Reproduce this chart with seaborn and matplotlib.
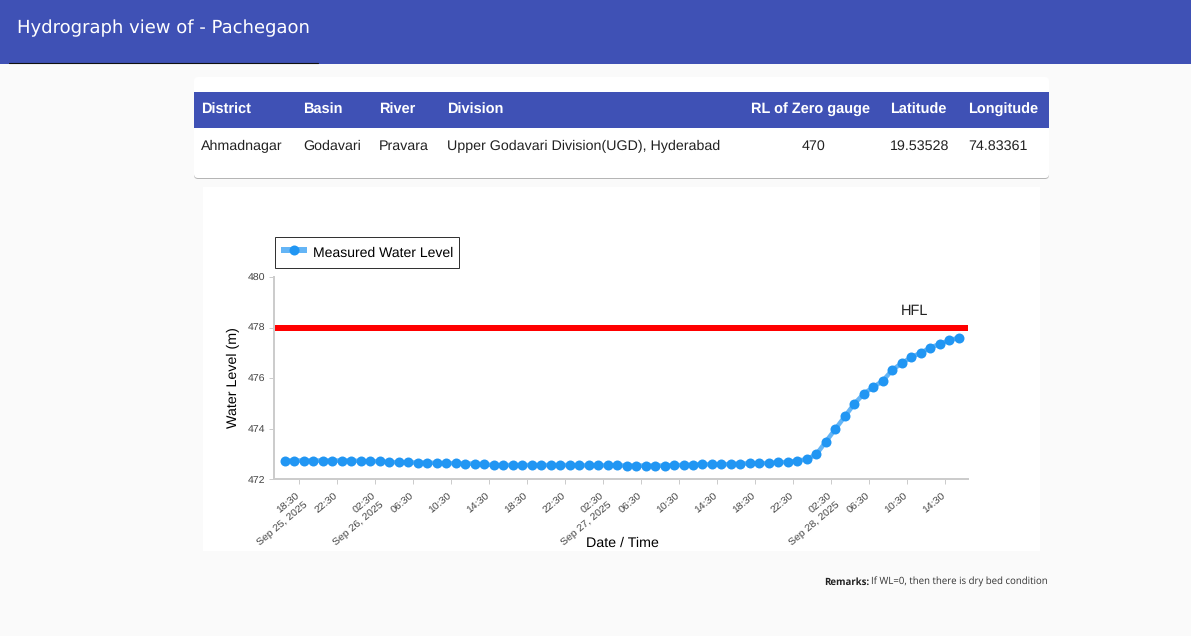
import matplotlib
matplotlib.use('Agg')
import matplotlib.pyplot as plt
import matplotlib.dates as mdates
from matplotlib.patches import Rectangle, FancyBboxPatch
from matplotlib.transforms import ScaledTranslation
import pandas as pd
import seaborn as sns

# Data
start_time = '2025-09-25 17:00'
water_level = [
    472.73, 472.73, 472.73, 472.73, 472.73, 472.73, 472.73, 472.73, 472.71, 472.70,
    472.70, 472.67, 472.66, 472.66, 472.65, 472.65, 472.63, 472.63, 472.62, 472.61,
    472.61, 472.58, 472.55, 472.55, 472.55, 472.55, 472.55, 472.55, 472.55, 472.55,
    472.55, 472.54, 472.54, 472.54, 472.54, 472.54, 472.53, 472.53, 472.53, 472.53,
    472.53, 472.55, 472.55, 472.57, 472.58, 472.58, 472.58, 472.59, 472.61, 472.62,
    472.62, 472.63, 472.66, 472.67, 472.73, 472.78, 472.98, 473.48, 473.98, 474.48,
    474.98, 475.38, 475.64, 475.89, 476.32, 476.59, 476.82, 477.00, 477.20, 477.35,
    477.49, 477.60,
]
hfl_level = 478
y_ticks = [472, 474, 476, 478, 480]
x_tick_times = ['2025-09-25 18:30', '2025-09-25 22:30', '2025-09-26 02:30', '2025-09-26 06:30',
                '2025-09-26 10:30', '2025-09-26 14:30', '2025-09-26 18:30', '2025-09-26 22:30',
                '2025-09-27 02:30', '2025-09-27 06:30', '2025-09-27 10:30', '2025-09-27 14:30',
                '2025-09-27 18:30', '2025-09-27 22:30', '2025-09-28 02:30', '2025-09-28 06:30',
                '2025-09-28 10:30', '2025-09-28 14:30']
x_tick_labels = ['18:30\nSep 25, 2025', '22:30', '02:30\nSep 26, 2025', '06:30', '10:30', '14:30',
                 '18:30', '22:30', '02:30\nSep 27, 2025', '06:30', '10:30', '14:30',
                 '18:30', '22:30', '02:30\nSep 28, 2025', '06:30', '10:30', '14:30']
table_headers = ['District', 'Basin', 'River', 'Division']
table_values = ['Ahmadnagar', 'Godavari', 'Pravara', 'Upper Godavari Division(UGD), Hyderabad']
table_lefts = [201, 303, 379, 447]

W, H = 1191, 636
PT = 0.72  # one pixel in points at dpi 100
INDIGO = '#3f51b5'
BLUE = '#2196f3'
HEAD_SIZE = 14.5 * PT
CELL_SIZE = 14.3 * PT
HEAD_Y = 114
CELL_Y = 150

sns.set_theme(style='white')
plt.rcParams['font.family'] = ['Liberation Sans', 'DejaVu Sans']
plt.rcParams['text.hinting'] = 'none'

df = pd.DataFrame({'time': pd.date_range(start_time, periods=len(water_level), freq='h'),
                   'level': water_level})

fig = plt.figure(figsize=(W / 100, H / 100), dpi=100, facecolor='#fafafa')

# Page furniture drawn in pixel coordinates
page = fig.add_axes([0, 0, 1, 1])
page.set_xlim(0, W)
page.set_ylim(H, 0)
page.axis('off')
page.add_patch(Rectangle((0, 0), W, 64, color=INDIGO, lw=0))
page.plot([9, 318], [63, 63], color='#101010', lw=0.8)
page.text(17, 28, 'Hydrograph view of - Pachegaon', color='white', fontsize=18 * PT,
          family='DejaVu Sans', va='center')

# Card with the station table
page.add_patch(FancyBboxPatch((194, 79), 855, 100, boxstyle='round,pad=0,rounding_size=4',
                              fc='#b5b5b5', ec='none'))
page.add_patch(FancyBboxPatch((194, 77), 855, 101, boxstyle='round,pad=0,rounding_size=4',
                              fc='white', ec='none'))
page.add_patch(Rectangle((194, 92), 855, 36, color=INDIGO, lw=0))
for left, header, value in zip(table_lefts, table_headers, table_values):
    page.text(left, HEAD_Y, header, color='white', weight='bold', fontsize=HEAD_SIZE, va='baseline')
    page.text(left, CELL_Y, value, color='#222222', fontsize=CELL_SIZE, va='baseline')
page.text(810, HEAD_Y, 'RL of Zero gauge', color='white', weight='bold', fontsize=HEAD_SIZE,
          va='baseline', ha='center')
page.text(814, CELL_Y, '470', color='#222222', fontsize=CELL_SIZE, va='baseline', ha='center')
page.text(890, HEAD_Y, 'Latitude', color='white', weight='bold', fontsize=HEAD_SIZE, va='baseline')
page.text(890, CELL_Y, '19.53528', color='#222222', fontsize=CELL_SIZE, va='baseline')
page.text(968, HEAD_Y, 'Longitude', color='white', weight='bold', fontsize=HEAD_SIZE, va='baseline')
page.text(968, CELL_Y, '74.83361', color='#222222', fontsize=CELL_SIZE, va='baseline')

# White panel behind the chart
page.add_patch(Rectangle((203, 187), 837, 364, color='white', lw=0))

# Remarks
page.text(869, 584.5, 'Remarks:', color='#222222', weight='bold', fontsize=9.7 * PT,
          family='Open Sans', ha='right', va='baseline')
page.text(871, 584.5, 'If WL=0, then there is dry bed condition', color='#333333', fontsize=9.7 * PT,
          family='Open Sans', va='baseline')

# Chart axes
ax = fig.add_axes([274 / W, 1 - 479 / H, 694 / W, 202 / H])
ax.patch.set_alpha(0)
ax.axhline(hfl_level, color='red', lw=6 * PT, zorder=2, solid_capstyle='butt')
sns.lineplot(data=df, x='time', y='level', ax=ax, color='#64b5f6', lw=4.5 * PT, marker='o',
             markersize=10 * PT, markerfacecolor=BLUE, markeredgewidth=0,
             label='Measured Water Level', zorder=3)

ax.set_xlim(pd.Timestamp('2025-09-25 15:52'), pd.Timestamp('2025-09-28 16:58'))
ax.set_ylim(472, 480)
ax.set_yticks(y_ticks)
ax.set_xticks(mdates.date2num(pd.to_datetime(x_tick_times)))
ax.set_xticklabels(x_tick_labels, rotation=40, ha='right', va='top', rotation_mode='anchor',
                   multialignment='right', linespacing=1.5)
ax.tick_params(axis='both', colors='#cccccc', labelcolor='#444444', labelsize=10.5 * PT,
               length=5 * PT, width=1 * PT, pad=3, bottom=True, left=True)
for label in ax.get_xticklabels():
    label.set_transform(label.get_transform() + ScaledTranslation(-3 / 100, -3 / 100, fig.dpi_scale_trans))
for side in ['top', 'right']:
    ax.spines[side].set_visible(False)
for side in ['left', 'bottom']:
    ax.spines[side].set_color('#cccccc')
    ax.spines[side].set_linewidth(2 * PT)

ax.set_xlabel('')
ax.set_ylabel('')
page.text(622, 543, 'Date / Time', color='black', fontsize=14.3 * PT, ha='center', va='center',
          zorder=5)
page.text(233, 378, 'Water Level (m)', color='black', fontsize=14.3 * PT, rotation=90,
          ha='center', va='center')
ax.text(pd.Timestamp('2025-09-28 11:20'), 478.63, 'HFL', color='#222222', fontsize=14.5 * PT,
        ha='center', va='center')

legend = ax.legend(loc='lower left', bbox_to_anchor=(0.0015, 1.0446), fontsize=14 * PT, frameon=True,
                   fancybox=False, framealpha=1, edgecolor='#333333', borderaxespad=0,
                   handlelength=1.8, handleheight=1.65, borderpad=0.45, handletextpad=0.43,
                   labelcolor='black')
legend.get_frame().set_linewidth(1 * PT)
legend.get_lines()[0].set_linewidth(6 * PT)
legend.get_lines()[0].set_solid_capstyle('butt')

fig.savefig('out.png', dpi=100, facecolor=fig.get_facecolor())
